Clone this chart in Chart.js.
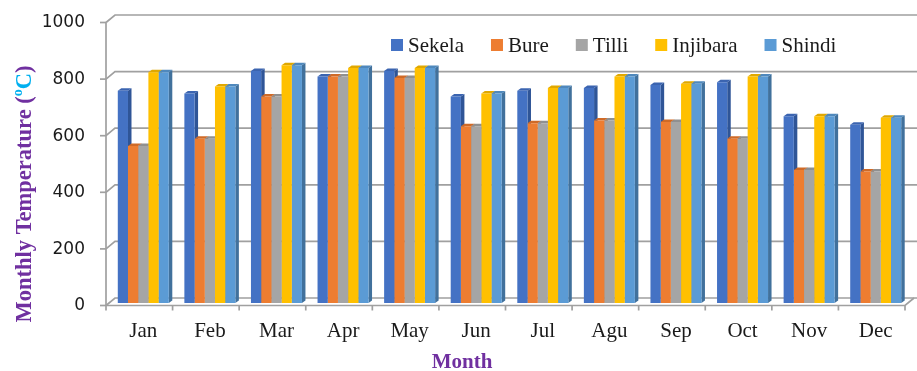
<!DOCTYPE html>
<html>
<head>
<meta charset="utf-8">
<script src="https://cdn.jsdelivr.net/npm/chart.js@4.4.0/dist/chart.umd.min.js"></script>
<style>
  html, body { margin: 0; padding: 0; background: #ffffff; }
  #wrap { width: 917px; height: 371px; position: relative; }
</style>
</head>
<body>
<div id="wrap"><canvas id="chart" width="917" height="371"></canvas></div>
<script>
// Monthly values per station
const months   = ['Jan', 'Feb', 'Mar', 'Apr', 'May', 'Jun', 'Jul', 'Agu', 'Sep', 'Oct', 'Nov', 'Dec'];
const sekela   = [750, 740, 820, 800, 820, 730, 750, 760, 770, 780, 660, 630];
const bure     = [555, 580, 730, 800, 795, 625, 635, 645, 640, 580, 470, 465];
const tilli    = [555, 580, 730, 800, 795, 625, 635, 645, 640, 580, 470, 465];
const injibara = [815, 765, 840, 830, 830, 740, 760, 800, 775, 800, 660, 655];
const shindi   = [815, 765, 840, 830, 830, 740, 760, 800, 775, 800, 660, 655];
const yTicks   = [0, 200, 400, 600, 800, 1000];

const stations = ['Sekela', 'Bure', 'Tilli', 'Injibara', 'Shindi'];
const series   = [sekela, bure, tilli, injibara, shindi];
const front    = ['#4472C4', '#ED7D31', '#A5A5A5', '#FFC000', '#5B9BD5'];
const side     = ['#2F5597', '#AE5A21', '#7B7B7B', '#BF9000', '#41719C'];
const topFace  = ['#3B64B0', '#CF6A27', '#909090', '#E0A800', '#4F88BC'];

const SERIF = "'Liberation Serif', 'Times New Roman', serif";
const PURPLE = '#7030A0';
const CYAN = '#00B0F0';
const GRID = '#A0A0A0';

// Depth offsets: front plane and back wall relative to the bar plane
const FX = -4, FY = 2.5, BX = 5, BY = -5;
// Bar depth (side and top faces)
const DX = 3.5, DY = -2.5;

function poly(ctx, pts, fill) {
  ctx.beginPath();
  ctx.moveTo(pts[0][0], pts[0][1]);
  for (let i = 1; i < pts.length; i++) ctx.lineTo(pts[i][0], pts[i][1]);
  ctx.closePath();
  ctx.fillStyle = fill;
  ctx.fill();
}

function noPadding(s) {
  s.paddingTop = 0;
  s.paddingBottom = 0;
  s.paddingLeft = 0;
  s.paddingRight = 0;
}

const frame3d = {
  id: 'frame3d',
  beforeDatasetsDraw(chart) {
    const { ctx, chartArea: { left, right }, scales: { y } } = chart;
    ctx.save();
    ctx.strokeStyle = GRID;
    ctx.lineWidth = 1.7;
    ctx.lineCap = 'butt';
    // back wall gridlines with left-wall connectors
    yTicks.forEach(v => {
      const py = y.getPixelForValue(v);
      ctx.beginPath();
      ctx.moveTo(left + FX, py + FY);
      ctx.lineTo(left + BX, py + BY);
      ctx.lineTo(right + BX + 3, py + BY);
      ctx.stroke();
      // tick marks on the front axis
      ctx.beginPath();
      ctx.moveTo(left + FX - 6, py + FY);
      ctx.lineTo(left + FX, py + FY);
      ctx.stroke();
    });
    // front vertical axis
    ctx.beginPath();
    ctx.moveTo(left + FX, y.getPixelForValue(yTicks[yTicks.length - 1]) + FY);
    ctx.lineTo(left + FX, y.getPixelForValue(0) + FY);
    ctx.stroke();
    // front floor edge with right-hand connector
    const y0 = y.getPixelForValue(0);
    ctx.beginPath();
    ctx.moveTo(left + FX, y0 + FY);
    ctx.lineTo(right + FX, y0 + FY);
    ctx.lineTo(right + BX, y0 + BY);
    ctx.stroke();
    // category tick marks
    const n = months.length;
    for (let i = 0; i <= n; i++) {
      const px = left + FX + i * (right - left) / n;
      ctx.beginPath();
      ctx.moveTo(px, y0 + FY);
      ctx.lineTo(px, y0 + FY + 5);
      ctx.stroke();
    }
    // side and top faces of each bar
    chart.data.datasets.forEach((ds, i) => {
      const meta = chart.getDatasetMeta(i);
      meta.data.forEach(bar => {
        const p = bar.getProps(['x', 'y', 'base', 'width'], true);
        const l = p.x - p.width / 2, r = p.x + p.width / 2;
        poly(ctx, [[r, p.y], [r + DX, p.y + DY], [r + DX, p.base + DY], [r, p.base]], side[i]);
        poly(ctx, [[l, p.y], [l + DX, p.y + DY], [r + DX, p.y + DY], [r, p.y]], topFace[i]);
      });
    });
    ctx.restore();
  },
  afterDraw(chart) {
    const { ctx } = chart;
    ctx.save();
    // legend
    ctx.font = '21px ' + SERIF;
    ctx.textBaseline = 'middle';
    ctx.textAlign = 'left';
    let lx = 391;
    const ly = 45;
    chart.data.datasets.forEach((ds, i) => {
      ctx.fillStyle = ds.backgroundColor;
      ctx.fillRect(lx, ly - 6, 12, 12);
      ctx.fillStyle = '#1A1A1A';
      ctx.fillText(ds.label, lx + 17, ly + 1);
      lx += 17 + ctx.measureText(ds.label).width + 27;
    });
    // x axis title
    ctx.font = 'bold 21px ' + SERIF;
    ctx.fillStyle = PURPLE;
    ctx.textAlign = 'center';
    ctx.textBaseline = 'alphabetic';
    ctx.fillText('Month', 462, 368);
    // y axis title (rotated, mixed colours, superscript degree)
    ctx.translate(31, 194);
    ctx.rotate(-Math.PI / 2);
    ctx.textAlign = 'left';
    const parts = [
      { t: 'Monthly Temperature (', c: PURPLE, f: 'bold 22.5px ' + SERIF, dy: 0 },
      { t: 'o', c: CYAN, f: 'bold 14px ' + SERIF, dy: -9 },
      { t: 'C', c: CYAN, f: 'bold 22.5px ' + SERIF, dy: 0 },
      { t: ')', c: PURPLE, f: 'bold 22.5px ' + SERIF, dy: 0 }
    ];
    let total = 0;
    parts.forEach(pt => { ctx.font = pt.f; pt.w = ctx.measureText(pt.t).width; total += pt.w; });
    let u = -total / 2;
    parts.forEach(pt => {
      ctx.font = pt.f;
      ctx.fillStyle = pt.c;
      ctx.fillText(pt.t, u, pt.dy);
      u += pt.w;
    });
    ctx.restore();
  }
};

new Chart(document.getElementById('chart'), {
  type: 'bar',
  data: {
    labels: months,
    datasets: stations.map((name, i) => ({
      label: name,
      data: series[i],
      backgroundColor: front[i],
      borderWidth: 0,
      categoryPercentage: 0.766,
      barPercentage: 1.0
    }))
  },
  options: {
    responsive: false,
    animation: false,
    devicePixelRatio: 1,
    layout: { padding: { top: 20, right: 8, bottom: 0, left: 0 } },
    plugins: {
      legend: { display: false },
      tooltip: { enabled: false }
    },
    scales: {
      x: {
        grid: { display: false, drawTicks: false },
        border: { display: false },
        ticks: { color: '#1A1A1A', font: { family: SERIF, size: 21 }, padding: 16, maxRotation: 0 },
        afterFit(s) { s.height = 68; noPadding(s); }
      },
      y: {
        min: 0,
        max: 1000,
        afterBuildTicks(s) { s.ticks = yTicks.map(v => ({ value: v })); },
        grid: { display: false, drawTicks: false },
        border: { display: false },
        ticks: {
          color: '#1A1A1A',
          font: { family: "'DejaVu Sans', sans-serif", size: 17 },
          padding: 25,
          labelOffset: 3,
          callback: v => String(v)
        },
        afterFit(s) { s.width = 110; noPadding(s); }
      }
    }
  },
  plugins: [frame3d]
});
</script>
</body>
</html>
